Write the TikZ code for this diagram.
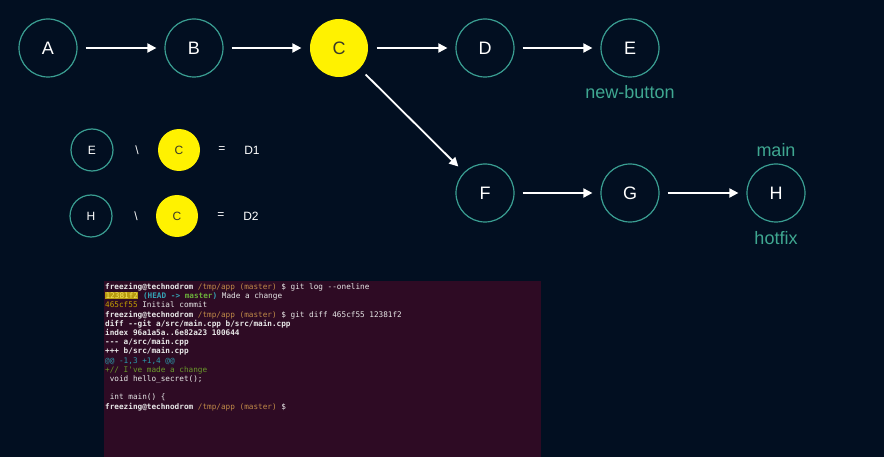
\documentclass[tikz,border=0pt]{standalone}
\usepackage{fontspec}
\setmainfont{Liberation Sans}
\newfontfamily\termfont{DejaVu Sans Mono}[Ligatures=TeXOff]
\usetikzlibrary{arrows.meta}

\definecolor{bgnavy}{HTML}{020F21}
\definecolor{commitline}{HTML}{3A9E92}
\definecolor{branchtxt}{HTML}{3FA791}
\definecolor{hilite}{HTML}{FFF200}
\definecolor{cdark}{HTML}{3A3A28}
\definecolor{termbg}{HTML}{2E0B24}
\definecolor{termtxt}{HTML}{E8E8E8}
\definecolor{pathtxt}{HTML}{C08A48}
\definecolor{hashbg}{HTML}{B89A10}
\definecolor{hashfg}{HTML}{F2E45A}
\definecolor{hashtxt}{HTML}{C4A000}
\definecolor{reftxt}{HTML}{34A2B4}
\definecolor{refgreen}{HTML}{6AAE3A}
\definecolor{hunktxt}{HTML}{2A9AAA}
\definecolor{addtxt}{HTML}{6A9A2A}

\begin{document}
\begin{tikzpicture}[x=1pt, y=-1pt,
        commit/.style={circle, draw=commitline, line width=1.2pt, minimum size=58pt,
                       inner sep=0pt, text=white, font=\fontsize{18}{18}\selectfont},
        picked/.style={commit, draw=none, fill=hilite, text=cdark},
        smallcommit/.style={minimum size=42pt, font=\fontsize{12}{12}\selectfont},
        branch/.style={text=branchtxt, font=\fontsize{18}{18}\selectfont},
        sign/.style={text=white, font=\fontsize{12}{12}\selectfont},
        link/.style={-{Triangle[length=9pt,width=9pt]}, draw=white, line width=1.8pt,
                     shorten <=8pt, shorten >=8pt}]
        \fill [bgnavy] (0, 0) rectangle (884, 457);

        % commit graph
        \node [commit] (A) at (48, 48) {A};
        \node [commit] (B) at (194, 48) {B};
        \node [picked] (C) at (339, 48) {C};
        \node [commit] (D) at (485, 48) {D};
        \node [commit] (E) at (630, 48) {E};
        \node [commit] (F) at (485, 193) {F};
        \node [commit] (G) at (630, 193) {G};
        \node [commit] (H) at (776, 193) {H};

        \node [branch] (newbutton) at (630, 92) {new-button};
        \node [branch] (main) at (776, 150) {main};
        \node [branch] (hotfix) at (776, 238) {hotfix};

        \draw [link] (A) -- (B);
        \draw [link] (B) -- (C);
        \draw [link] (C) -- (D);
        \draw [link] (D) -- (E);
        \draw [link] (C) -- (F);
        \draw [link] (F) -- (G);
        \draw [link] (G) -- (H);

        % differences
        \node [commit, smallcommit] (E1) at (92, 150) {E};
        \node [sign] (minus1) at (137, 150) {\textbackslash};
        \node [picked, smallcommit] (C1) at (179, 150) {C};
        \node [sign] (eq1) at (222, 150) {=};
        \node [sign] (D1) at (252, 150) {D1};

        \node [commit, smallcommit] (H2) at (91, 216) {H};
        \node [sign] (minus2) at (136, 216) {\textbackslash};
        \node [picked, smallcommit] (C2) at (177, 216) {C};
        \node [sign] (eq2) at (221, 216) {=};
        \node [sign] (D2) at (251, 216) {D2};

        % terminal
        \fill [termbg] (104, 281) rectangle (541, 457);
        \node [anchor=north west, inner sep=0pt, align=left, text=termtxt,
               font=\termfont\fontsize{7.7}{9.2}\selectfont] (term) at (105, 283) {%
            \textbf{freezing@technodrom} \textcolor{pathtxt}{/tmp/app (master)} \$ git log --oneline\\
            {\setlength{\fboxsep}{0.4pt}\colorbox{hashbg}{\textcolor{hashfg}{12381f2}}} \textcolor{reftxt}{\textbf{(HEAD -> }}\textcolor{refgreen}{\textbf{master}}\textcolor{reftxt}{\textbf{)}} Made a change\\
            \textcolor{hashtxt}{465cf55} Initial commit\\
            \textbf{freezing@technodrom} \textcolor{pathtxt}{/tmp/app (master)} \$ git diff 465cf55 12381f2\\
            \textbf{diff --git a/src/main.cpp b/src/main.cpp}\\
            \textbf{index 96a1a5a..6e82a23 100644}\\
            \textbf{--- a/src/main.cpp}\\
            \textbf{+++ b/src/main.cpp}\\
            \textcolor{hunktxt}{@@ -1,3 +1,4 @@}\\
            \textcolor{addtxt}{+// I've made a change}\\
            \ void hello\_secret();\\
            \mbox{}\\
            \ int main() \{\\
            \textbf{freezing@technodrom} \textcolor{pathtxt}{/tmp/app (master)} \$};
    \end{tikzpicture}
\end{document}
